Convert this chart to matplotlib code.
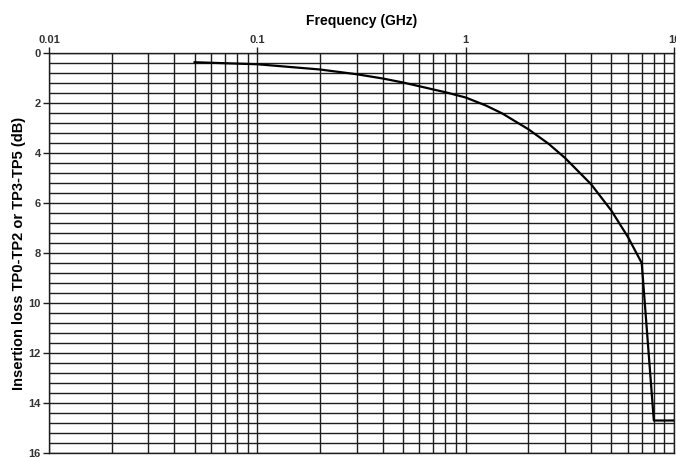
import matplotlib
matplotlib.use("Agg")
import matplotlib.pyplot as plt
from matplotlib.ticker import FixedLocator, LogLocator, NullFormatter, MultipleLocator
import numpy as np

plt.rcParams['font.family'] = ['Liberation Sans', 'DejaVu Sans']

# Insertion loss limit curve
freq_ghz = [0.05, 0.1, 0.2, 0.3, 0.4, 0.5, 0.6, 0.7, 0.8, 0.9, 1.0,
            1.25, 1.5, 2.0, 2.5, 3.0, 4.0, 5.0, 6.0, 7.0, 8.0, 10.0]
loss_db = [0.37, 0.45, 0.66, 0.85, 1.02, 1.18, 1.33, 1.46, 1.57, 1.68, 1.78,
           2.1, 2.42, 3.05, 3.63, 4.2, 5.25, 6.3, 7.35, 8.4, 14.7, 14.7]

x_ticks = [0.01, 0.1, 1, 10]
x_tick_labels = ["0.01", "0.1", "1", "10"]
y_ticks = [0, 2, 4, 6, 8, 10, 12, 14, 16]

fig = plt.figure(figsize=(6.76, 4.58), dpi=100)
ax = fig.add_axes([49 / 676, 1 - 453 / 458, 625 / 676, 400 / 458])

ax.set_xscale('log')
ax.set_xlim(0.01, 10)
ax.set_ylim(16, 0)

grid_color = '#1e1e1e'
ax.xaxis.set_major_locator(FixedLocator(x_ticks))
ax.xaxis.set_minor_locator(LogLocator(base=10, subs=np.arange(2, 10)))
ax.xaxis.set_minor_formatter(NullFormatter())
ax.set_xticklabels(x_tick_labels)
ax.yaxis.set_major_locator(FixedLocator(y_ticks))
ax.yaxis.set_minor_locator(MultipleLocator(0.4))

ax.grid(which='both', axis='both', color=grid_color, linewidth=1.0)
ax.set_axisbelow(True)

ax.xaxis.tick_top()
ax.xaxis.set_label_position('top')
ax.tick_params(axis='x', which='major', direction='out', length=4, width=1.0,
               color=grid_color, labelsize=8, pad=2)
ax.tick_params(axis='x', which='minor', length=0)
ax.tick_params(axis='y', which='major', direction='out', length=4, width=1.0,
               color=grid_color, labelsize=8, pad=2)
ax.tick_params(axis='y', which='minor', length=0)
for lbl in ax.get_xticklabels() + ax.get_yticklabels():
    lbl.set_fontweight('bold')
    lbl.set_color('#333333')

for s in ax.spines.values():
    s.set_color(grid_color)
    s.set_linewidth(1.0)

ax.plot(freq_ghz, loss_db, color='black', linewidth=1.6, solid_joinstyle='round')

ax.set_xlabel('Frequency (GHz)', fontsize=10, fontweight='bold', labelpad=7)
ax.set_ylabel('Insertion loss TP0-TP2 or TP3-TP5 (dB)', fontsize=10.5,
              fontweight='bold', labelpad=2)

fig.savefig('out.png', dpi=100)
